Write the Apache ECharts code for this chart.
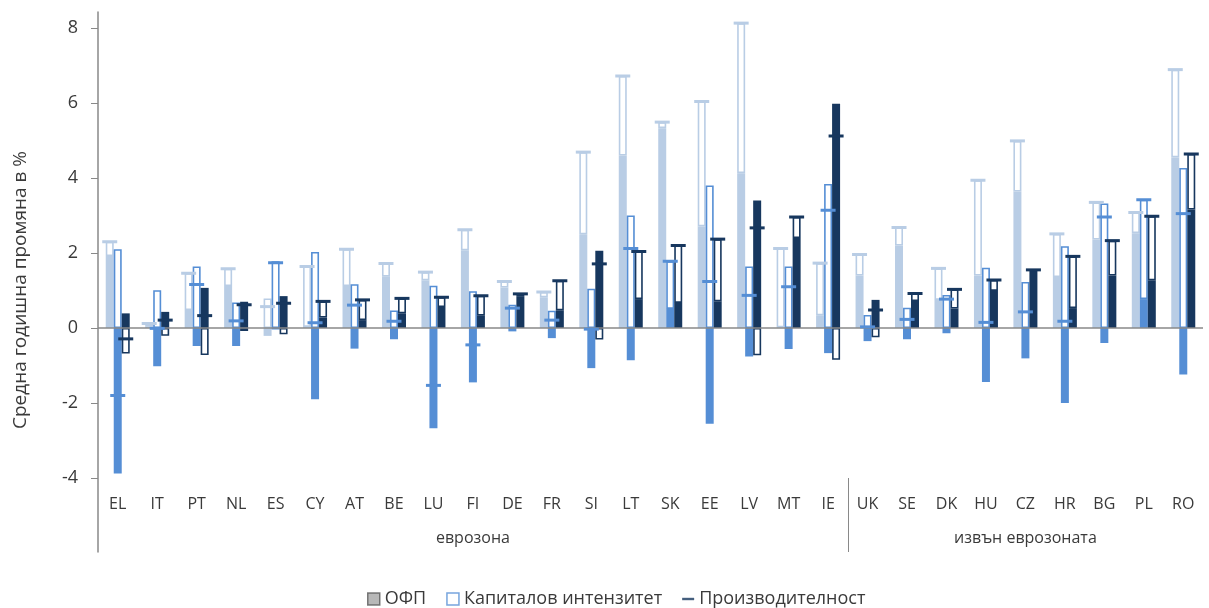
<!DOCTYPE html>
<html>
<head>
<meta charset="utf-8">
<script src="https://cdn.jsdelivr.net/npm/echarts@6/dist/echarts.min.js"></script>
<style>
html,body{margin:0;padding:0;background:#fff;}
#chart{width:1209px;height:608px;}
</style>
</head>
<body>
<div id="chart"></div>
<script>
const countries = ['EL','IT','PT','NL','ES','CY','AT','BE','LU','FI','DE','FR','SI','LT','SK','EE','LV','MT','IE','UK','SE','DK','HU','CZ','HR','BG','PL','RO'];
const groupNames = ['еврозона','извън еврозоната'];
const groupSplitAt = 19; // first non-euro country index

// Period 1 (light)
const tfp1  = [1.92,0.05,0.48,1.12,-0.21,0.03,1.12,1.37,1.27,2.07,1.08,0.82,2.50,4.60,5.33,2.71,4.13,0.02,0.34,1.40,2.20,0.75,1.40,3.64,1.36,2.36,2.53,4.55];
const ci1   = [0.38,0.07,0.98,0.46,0.79,1.61,0.98,0.35,0.22,0.55,0.16,0.14,2.19,2.12,0.16,3.33,4.00,2.10,1.39,0.56,0.48,0.84,2.54,1.35,1.15,0.99,0.55,2.34];
const prod1 = [2.30,0.12,1.46,1.58,0.57,1.64,2.10,1.72,1.49,2.62,1.24,0.96,4.69,6.72,5.49,6.04,8.13,2.12,1.73,1.96,2.68,1.59,3.94,4.99,2.51,3.35,3.08,6.89];
// Period 2 (mid)
const tfp2  = [-3.88,-1.02,-0.48,-0.48,-0.04,-1.90,-0.55,-0.30,-2.67,-1.45,-0.09,-0.27,-1.07,-0.86,0.51,-2.55,-0.76,-0.56,-0.67,-0.35,-0.30,-0.14,-1.44,-0.81,-2.00,-0.40,0.77,-1.24];
const ci2   = [2.10,1.01,1.64,0.68,1.78,2.03,1.17,0.47,1.13,0.98,0.62,0.46,1.05,3.00,1.27,3.80,1.64,1.64,3.84,0.35,0.54,0.88,1.61,1.23,2.18,3.32,2.65,4.27];
const prod2 = [-1.80,-0.01,1.16,0.19,1.74,0.14,0.61,0.18,-1.53,-0.45,0.53,0.21,-0.03,2.12,1.78,1.24,0.87,1.10,3.14,0.03,0.23,0.77,0.15,0.43,0.18,2.96,3.42,3.05];
// Period 3 (dark)
const tfp3  = [0.39,0.43,1.07,0.70,0.85,0.28,0.21,0.39,0.56,0.33,0.83,0.47,2.06,0.77,0.67,0.71,3.40,2.40,5.98,0.75,0.72,0.52,0.99,1.53,0.53,1.40,1.27,3.16];
const ci3   = [-0.68,-0.21,-0.72,-0.08,-0.17,0.43,0.54,0.40,0.26,0.53,0.08,0.79,-0.31,1.27,1.53,1.66,-0.73,0.56,-0.85,-0.25,0.20,0.51,0.29,0.02,1.38,0.93,1.71,1.48];
const prod3 = [-0.29,0.21,0.33,0.62,0.66,0.71,0.75,0.79,0.82,0.86,0.91,1.26,1.71,2.04,2.20,2.37,2.67,2.96,5.12,0.48,0.92,1.03,1.28,1.55,1.91,2.33,2.98,4.64];

const yTicks = {min: -4, max: 8, interval: 2};
const legendNames = ['ОФП','Капиталов интензитет','Производителност'];

const colors = ['#b9cde5','#558ed5','#17375e'];
const FONT = 'Open Sans';
const TXT = '#3a3a3a';
const AX = '#898989';
const BW = 8;

const N = countries.length;
const groupCenters = [groupSplitAt / 2, (groupSplitAt + N) / 2];

const tfps = [tfp1,tfp2,tfp3], cis = [ci1,ci2,ci3], prods = [prod1,prod2,prod3];
const series = [];
for (let p = 0; p < 3; p++) {
  series.push({
    type:'bar', xAxisIndex:0, yAxisIndex:0, stack:'s'+p, barWidth:BW, barGap:'0%', clip:false,
    data: tfps[p], itemStyle:{color:colors[p]}, silent:true, z:2
  });
  series.push({
    type:'bar', xAxisIndex:0, yAxisIndex:0, stack:'s'+p, barWidth:BW, barGap:'0%', clip:false,
    data: cis[p], itemStyle:{color:'#ffffff', borderColor:colors[p], borderWidth:1.6}, silent:true, z:2
  });
}
series[5].markLine = {
  silent:true, symbol:['none','none'], label:{show:false},
  lineStyle:{color:AX, type:'solid', width:1.5},
  data:[{yAxis:0}], z:3
};
for (let p = 0; p < 3; p++) {
  series.push({
    type:'scatter', xAxisIndex:0, yAxisIndex:0, clip:false,
    data: prods[p], symbol:'rect', symbolSize:[15,3], symbolOffset:[(p-1)*BW,0],
    itemStyle:{color:colors[p], opacity:1}, silent:true, z:5
  });
}
series.push({type:'scatter', name:legendNames[0], data:[], xAxisIndex:0, yAxisIndex:0});
series.push({type:'scatter', name:legendNames[1], data:[], xAxisIndex:0, yAxisIndex:0});
series.push({type:'scatter', name:legendNames[2], data:[], xAxisIndex:0, yAxisIndex:0});

const chart = echarts.init(document.getElementById('chart'), null, {renderer:'canvas'});
chart.setOption({
  animation:false,
  textStyle:{fontFamily:FONT},
  grid:[
    {left:98, right:6, top:28, bottom:130},
    {left:98, right:6, top:12, bottom:56}
  ],
  xAxis:[
    {type:'category', gridIndex:0, data:countries, boundaryGap:true,
     axisLine:{show:false}, axisTick:{show:false}, splitLine:{show:false},
     axisLabel:{margin:18, fontSize:16, color:TXT, fontFamily:FONT, interval:0}},
    {type:'value', gridIndex:1, min:0, max:N,
     axisLine:{show:false}, splitLine:{show:false},
     axisTick:{show:true, inside:true, length:74, customValues:[groupSplitAt], lineStyle:{color:AX, width:1}},
     axisLabel:{show:true, inside:true, margin:6, fontSize:16, color:TXT, fontFamily:FONT,
       customValues:groupCenters,
       formatter:(v)=> { const k = groupCenters.indexOf(v); return k>=0 ? groupNames[k] : ''; }}}
  ],
  yAxis:[
    {type:'value', gridIndex:0, min:yTicks.min, max:yTicks.max, interval:yTicks.interval,
     axisLine:{show:false}, axisTick:{show:true, length:7, lineStyle:{color:AX}},
     axisLabel:{margin:20, fontSize:18, color:TXT, fontFamily:FONT}, splitLine:{show:false}},
    {type:'value', gridIndex:1, min:0, max:1,
     axisLine:{show:true, lineStyle:{color:AX, width:1.5}}, axisTick:{show:false},
     axisLabel:{show:false}, splitLine:{show:false},
     name:'Средна годишна промяна в %', nameLocation:'middle', nameRotate:90, nameGap:68,
     nameTextStyle:{fontSize:19, color:TXT, fontFamily:FONT, padding:[0,16,0,0]}}
  ],
  legend:{
    left:362, top:585, itemGap:20, itemWidth:12, itemHeight:12,
    textStyle:{fontSize:18, color:TXT, fontFamily:FONT},
    selectedMode:false,
    data:[
      {name:legendNames[0], icon:'rect', itemStyle:{color:'#a6a6a6', borderColor:'#5a5a5a', borderWidth:1.5}},
      {name:legendNames[1], icon:'rect', itemStyle:{color:'#ffffff', borderColor:'#558ed5', borderWidth:1.5}},
      {name:legendNames[2], icon:'path://M0,0H10V2H0Z', itemStyle:{color:'#17375e'}}
    ]
  },
  series:series
});
</script>
</body>
</html>
